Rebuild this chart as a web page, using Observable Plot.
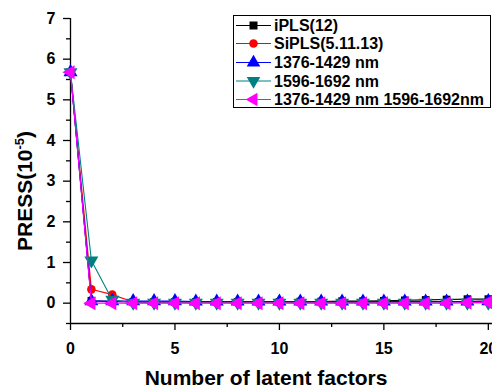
<!DOCTYPE html>
<html>
<head>
<meta charset="utf-8">
<script src="https://cdn.jsdelivr.net/npm/d3@7"></script>
<script src="https://cdn.jsdelivr.net/npm/@observablehq/plot@0.6"></script>
<style>
  html, body { margin: 0; padding: 0; background: #fff; }
  #chart svg { display: block; }
</style>
</head>
<body>
<div id="chart"></div>
<script>
const factors = d3.range(0, 21);
const seriesNames = ["iPLS(12)", "SiPLS(5.11.13)", "1376-1429 nm", "1596-1692 nm", "1376-1429 nm 1596-1692nm"];
const seriesColors = ["#000000", "#ff0000", "#0000ff", "#008080", "#ff00ff"];
const seriesSymbols = ["square", "circle", "up", "down", "left"];

const iPLS = [5.68, 0.06, 0.04, 0.03, 0.03, 0.03, 0.03, 0.03, 0.03, 0.03, 0.03, 0.04, 0.04, 0.05, 0.05, 0.06, 0.07, 0.08, 0.09, 0.1, 0.1];
const SiPLS = [5.68, 0.34, 0.21, 0.03, 0.02, 0.02, 0.02, 0.02, 0.02, 0.02, 0.02, 0.02, 0.02, 0.02, 0.02, 0.03, 0.03, 0.03, 0.04, 0.04, 0.05];
const band1 = [5.68, 0.05, 0.05, 0.05, 0.05, 0.05, 0.04, 0.04, 0.04, 0.04, 0.04, 0.04, 0.04, 0.04, 0.04, 0.04, 0.04, 0.04, 0.04, 0.04, 0.05];
const band2 = [5.68, 1.05, 0.08, 0.01, 0.01, 0.01, 0.01, 0.01, 0.01, 0.01, 0.01, 0.01, 0.01, 0.01, 0.01, 0.01, 0.01, 0.01, 0.01, 0.01, 0.01];
const bandBoth = [5.68, 0.0, 0.0, 0.0, 0.0, 0.0, 0.0, 0.0, 0.0, 0.0, 0.0, 0.0, 0.0, 0.0, 0.0, 0.0, 0.0, 0.0, 0.0, 0.01, 0.02];

const xTicks = [0, 5, 10, 15, 20];
const xMinor = [2.5, 7.5, 12.5, 17.5];
const yTicks = [0, 1, 2, 3, 4, 5, 6, 7];
const yMinor = [-0.5, 0.5, 1.5, 2.5, 3.5, 4.5, 5.5, 6.5];

// triangle symbols pointing in a given direction (size = area)
function triSymbol(angleDeg) {
  return {
    draw(context, size) {
      const s = Math.sqrt(size / (Math.sqrt(3) / 4));
      const R = s / Math.sqrt(3);
      const a0 = (angleDeg - 90) * Math.PI / 180;
      for (let k = 0; k < 3; k++) {
        const a = a0 + k * 2 * Math.PI / 3;
        const px = R * Math.cos(a), py = R * Math.sin(a);
        if (k === 0) context.moveTo(px, py); else context.lineTo(px, py);
      }
      context.closePath();
    }
  };
}
const symbolMap = {
  square: d3.symbolSquare,
  circle: d3.symbolCircle,
  up: triSymbol(0),
  down: triSymbol(180),
  left: triSymbol(-90)
};

const allSeries = [iPLS, SiPLS, band1, band2, bandBoth];
const data = [];
allSeries.forEach((vals, si) => {
  vals.forEach((v, i) => data.push({ series: seriesNames[si], x: factors[i], y: v, si }));
});

const lineMarks = [];
allSeries.forEach((vals, si) => {
  const d = data.filter(r => r.si === si);
  lineMarks.push(Plot.line(d, { x: "x", y: "y", stroke: seriesColors[si], strokeWidth: 1.1 }));
  lineMarks.push(Plot.dot(d, {
    x: "x", y: "y", symbol: symbolMap[seriesSymbols[si]], fill: seriesColors[si], stroke: "none",
    r: si === 1 ? 4.3 : (si === 0 ? 4.3 : 5.2)
  }));
});

const font = "'Liberation Sans', Arial, sans-serif";

const plot = Plot.plot({
  width: 492,
  height: 387,
  marginLeft: 70,
  marginRight: 0,
  marginTop: 18,
  marginBottom: 64,
  style: { fontFamily: font, background: "#fff", overflow: "visible" },
  x: { domain: [0, 20.2], label: null, axis: null },
  y: { domain: [-0.5, 7], label: null, axis: null },
  marks: [
    // x axis
    Plot.ruleY([-0.5], { stroke: "#000", strokeWidth: 1.3 }),
    Plot.axisX({ ticks: xTicks, tickSize: 7, tickPadding: 12, stroke: "#000", strokeWidth: 1.3, fontSize: 16, fontWeight: "bold", fill: "#000", label: null, anchor: "bottom", tickFormat: d => d }),
    Plot.axisX({ ticks: xMinor, tickSize: 4, tickFormat: () => "", stroke: "#000", strokeWidth: 1.3, label: null, anchor: "bottom" }),
    // y axis
    Plot.ruleX([0], { stroke: "#000", strokeWidth: 1.3 }),
    Plot.axisY({ ticks: yTicks, tickSize: 7, tickPadding: 8, stroke: "#000", strokeWidth: 1.3, fontSize: 16, fontWeight: "bold", fill: "#000", label: null, anchor: "left", tickFormat: d => d }),
    Plot.axisY({ ticks: yMinor, tickSize: 4, tickFormat: () => "", stroke: "#000", strokeWidth: 1.3, label: null, anchor: "left" }),
    ...lineMarks
  ]
});

document.getElementById("chart").appendChild(plot);
const svg = d3.select(plot);

// axis titles
svg.append("text")
  .attr("x", 266).attr("y", 385)
  .attr("text-anchor", "middle")
  .attr("font-family", font).attr("font-weight", "bold").attr("font-size", 21)
  .attr("fill", "#000")
  .text("Number of latent factors");

const yl = svg.append("text")
  .attr("transform", "translate(32,191) rotate(-90)")
  .attr("text-anchor", "middle")
  .attr("font-family", font).attr("font-weight", "bold").attr("font-size", 21)
  .attr("fill", "#000");
yl.append("tspan").text("PRESS(10");
yl.append("tspan").attr("font-size", 13).attr("dy", -8).text("-5");
yl.append("tspan").attr("dy", 8).text(")");

// legend
const lg = svg.append("g").attr("text-anchor", "start");
lg.append("rect").attr("x", 233.5).attr("y", 15.5).attr("width", 257).attr("height", 92)
  .attr("fill", "#fff").attr("stroke", "#000").attr("stroke-width", 1);
const rowY = [25.5, 43.5, 62.5, 81, 99.5];
seriesNames.forEach((name, i) => {
  const y = rowY[i];
  lg.append("line").attr("x1", 236).attr("x2", 271).attr("y1", y).attr("y2", y)
    .attr("stroke", seriesColors[i]).attr("stroke-width", 1.1);
  lg.append("path").attr("d", d3.symbol(symbolMap[seriesSymbols[i]], i === 1 ? 58 : (i === 0 ? 64 : 80))())
    .attr("transform", `translate(253.5,${y})`)
    .attr("fill", seriesColors[i]);
  lg.append("text").attr("x", 274).attr("y", y + 5.5)
    .attr("text-anchor", "start")
    .attr("font-family", font).attr("font-weight", "bold").attr("font-size", 16)
    .attr("fill", "#000").text(name);
});
</script>
</body>
</html>
